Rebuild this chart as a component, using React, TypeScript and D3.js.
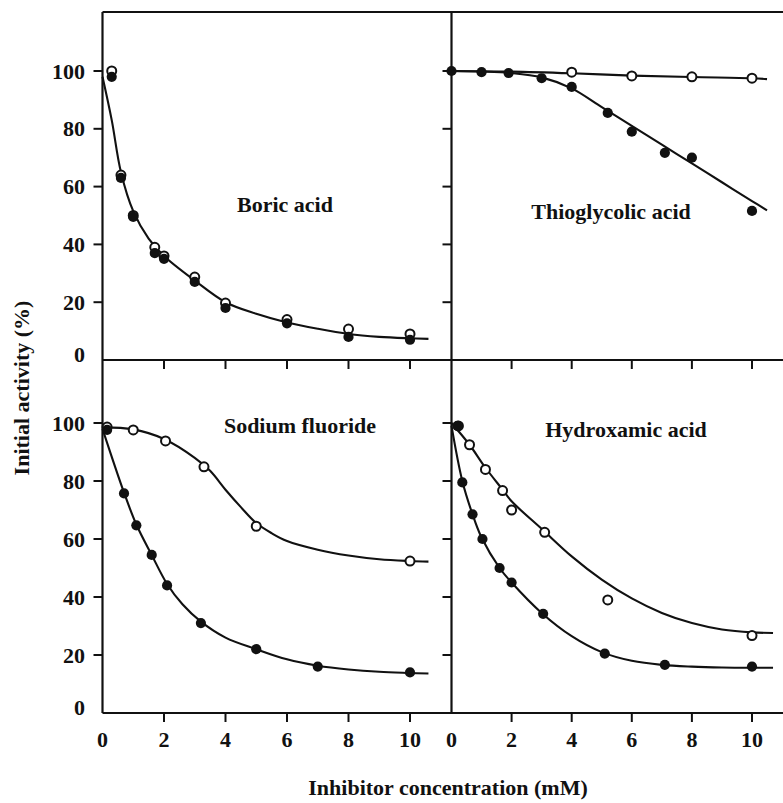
import React from "react";
import * as d3 from "d3";

// ---- data (x in mM, y in % initial activity) ----
const boricX = [0.3, 0.6, 1, 1.7, 2, 3, 4, 6, 8, 10];
const boricOpen = [100, 64, 50, 39, 36, 28.7, 19.7, 14, 10.7, 9];
const boricFilled = [98, 63, 49.5, 37, 35, 27, 18, 12.7, 8, 7];
const boricFitX = [0, 0.3, 0.6, 1, 1.5, 2, 3, 4, 5, 6, 7, 8, 9, 10, 10.6];
const boricFitY = [98, 83, 65, 51.5, 42, 36, 27.5, 20, 16, 13, 10.8, 9, 8, 7.5, 7.3];

const thioOpenX = [4, 6, 8, 10];
const thioOpen = [99.6, 98.3, 98, 97.5];
const thioFilledX = [0, 1, 1.9, 3, 4, 5.2, 6, 7.1, 8, 10];
const thioFilled = [100, 99.6, 99.3, 97.5, 94.5, 85.5, 79, 71.7, 70, 51.6];
const thioOpenFitX = [0, 2, 4, 6, 8, 10, 10.5];
const thioOpenFitY = [100, 99.8, 99.2, 98.4, 97.9, 97.5, 97.2];
const thioFilledFitX = [0, 1, 2, 3, 4, 5, 6, 7, 8, 9, 10, 10.5];
const thioFilledFitY = [100, 99.8, 99.3, 97.8, 94, 87.5, 81, 74.5, 68, 61.5, 55, 51.8];

const naOpenX = [0.15, 1, 2.05, 3.3, 5, 10];
const naOpen = [98.6, 97.6, 93.8, 84.9, 64.4, 52.4];
const naFilledX = [0.15, 0.7, 1.1, 1.6, 2.1, 3.2, 5, 7, 10];
const naFilled = [97.6, 75.7, 64.7, 54.5, 44, 31, 22, 16, 14];
const naOpenFitX = [0, 1, 2, 3, 3.5, 4, 4.5, 5, 5.5, 6, 7, 8, 9, 10, 10.6];
const naOpenFitY = [98.5, 97.8, 94.5, 88, 83.5, 77, 71, 65.5, 62, 59.3, 56.3, 54.3, 53, 52.4, 52.2];
const naFilledFitX = [0, 0.7, 1.1, 1.6, 2.1, 2.6, 3.2, 4, 5, 6, 7, 8, 9, 10, 10.6];
const naFilledFitY = [98, 76, 65, 54.5, 44.5, 37.5, 31.5, 26, 22, 18.5, 16.3, 15, 14.2, 13.8, 13.6];

const hxOpenX = [0.23, 0.6, 1.13, 1.7, 2, 3.1, 5.2, 10];
const hxOpen = [99, 92.5, 84, 76.7, 70, 62.3, 39, 26.7];
const hxFilledX = [0.2, 0.36, 0.7, 1.03, 1.6, 2, 3.05, 5.1, 7.1, 10];
const hxFilled = [99, 79.5, 68.5, 60, 50, 45, 34.2, 20.5, 16.6, 16];
const hxOpenFitX = [0, 0.6, 1.1, 1.7, 2, 3, 4, 5, 6, 7, 8, 9, 10, 10.7];
const hxOpenFitY = [100, 92.5, 85, 77, 73, 63.5, 54, 46, 39.5, 34.5, 31, 28.8, 27.8, 27.6];
const hxFilledFitX = [0, 0.36, 0.7, 1, 1.6, 2, 3, 4, 5, 6, 7, 8, 9, 10, 10.7];
const hxFilledFitY = [99, 80, 68.5, 60.5, 50, 45, 34.5, 26.5, 21, 18, 16.6, 16, 15.7, 15.6, 15.6];

const xTicks = [0, 2, 4, 6, 8, 10];
const yTicks = [0, 20, 40, 60, 80, 100];
const panelNames = ["Boric acid", "Thioglycolic acid", "Sodium fluoride", "Hydroxamic acid"];

const zip = (xs: number[], ys: number[]) => xs.map((x, i) => [x, ys[i]] as [number, number]);

const FONT = "'Liberation Serif', 'Times New Roman', serif";

// panel geometry
const xLeft = d3.scaleLinear().domain([0, 10]).range([102.5, 410]);
const xRight = d3.scaleLinear().domain([0, 10]).range([451.5, 752]);
const yTop = d3.scaleLinear().domain([0, 100]).range([360, 71]);
const yBot = d3.scaleLinear().domain([0, 100]).range([713, 423]);

const panels = [
  {
    name: panelNames[0], x: xLeft, y: yTop, label: [285, 212], left: true, bottom: false,
    fits: [zip(boricFitX, boricFitY)],
    open: zip(boricX, boricOpen), filled: zip(boricX, boricFilled),
  },
  {
    name: panelNames[1], x: xRight, y: yTop, label: [611, 219], left: false, bottom: false,
    fits: [zip(thioOpenFitX, thioOpenFitY), zip(thioFilledFitX, thioFilledFitY)],
    open: zip(thioOpenX, thioOpen), filled: zip(thioFilledX, thioFilled),
  },
  {
    name: panelNames[2], x: xLeft, y: yBot, label: [300, 433], left: true, bottom: true,
    fits: [zip(naOpenFitX, naOpenFitY), zip(naFilledFitX, naFilledFitY)],
    open: zip(naOpenX, naOpen), filled: zip(naFilledX, naFilled),
  },
  {
    name: panelNames[3], x: xRight, y: yBot, label: [626, 437], left: false, bottom: true,
    fits: [zip(hxOpenFitX, hxOpenFitY), zip(hxFilledFitX, hxFilledFitY)],
    open: zip(hxOpenX, hxOpen), filled: zip(hxFilledX, hxFilled),
  },
];

function Panel({ p }: { p: (typeof panels)[number] }) {
  const line = d3.line<[number, number]>()
    .x(d => p.x(d[0]))
    .y(d => p.y(d[1]))
    .curve(d3.curveCatmullRom.alpha(0.5));
  const x0 = p.x(0);
  const y0 = p.y(0);
  return (
    <g>
      {/* y ticks, pointing left */}
      {yTicks.filter(t => t > 0).map(t => (
        <line key={"yt" + t} x1={x0 - 9} x2={x0} y1={p.y(t)} y2={p.y(t)} stroke="#111" strokeWidth={2} />
      ))}
      {p.left && yTicks.map(t => (
        <text key={"yl" + t} x={85} y={p.y(t) + 7.5 - (t === 0 ? 6 : 0)} textAnchor="end"
          fontFamily={FONT} fontWeight="bold" fontSize={22} fill="#111">{t}</text>
      ))}
      {/* x ticks, pointing down */}
      {xTicks.filter(t => t > 0).map(t => (
        <line key={"xt" + t} x1={p.x(t)} x2={p.x(t)} y1={y0} y2={y0 + 9} stroke="#111" strokeWidth={2} />
      ))}
      {p.bottom && xTicks.map(t => (
        <text key={"xl" + t} x={p.x(t)} y={747} textAnchor="middle"
          fontFamily={FONT} fontWeight="bold" fontSize={22} fill="#111">{t}</text>
      ))}
      {p.fits.map((f, i) => (
        <path key={"f" + i} d={line(f) || ""} fill="none" stroke="#111" strokeWidth={2.1} />
      ))}
      {p.open.map((d, i) => (
        <circle key={"o" + i} cx={p.x(d[0])} cy={p.y(d[1])} r={4.5} fill="#fff" stroke="#111" strokeWidth={2} />
      ))}
      {p.filled.map((d, i) => (
        <circle key={"c" + i} cx={p.x(d[0])} cy={p.y(d[1])} r={5.1} fill="#111" />
      ))}
      <text x={p.label[0]} y={p.label[1]} textAnchor="middle"
        fontFamily={FONT} fontWeight="bold" fontSize={22} fill="#111">{p.name}</text>
    </g>
  );
}

export default function App() {
  const left = xLeft(0);
  const mid = xRight(0);
  const top = 12;
  const midY = yTop(0);
  const bot = yBot(0);
  return (
    <svg width={783} height={803} style={{ position: "absolute", left: 0, top: 0, background: "#fff" }}>
      <rect width={783} height={803} fill="#fff" />
      {/* frame */}
      <line x1={left} x2={783} y1={top} y2={top} stroke="#111" strokeWidth={2.2} />
      <line x1={left} x2={783} y1={midY} y2={midY} stroke="#111" strokeWidth={2.2} />
      <line x1={left} x2={783} y1={bot} y2={bot} stroke="#111" strokeWidth={2.2} />
      <line x1={left} x2={left} y1={top} y2={bot} stroke="#111" strokeWidth={2.2} />
      <line x1={mid} x2={mid} y1={top} y2={bot} stroke="#111" strokeWidth={2.2} />
      {panels.map(p => <Panel key={p.name} p={p} />)}
      <text transform="translate(29,388) rotate(-90)" textAnchor="middle"
        fontFamily={FONT} fontWeight="bold" fontSize={22} fill="#111">Initial activity (%)</text>
      <text x={448} y={795} textAnchor="middle"
        fontFamily={FONT} fontWeight="bold" fontSize={22} fill="#111">Inhibitor concentration (mM)</text>
    </svg>
  );
}
